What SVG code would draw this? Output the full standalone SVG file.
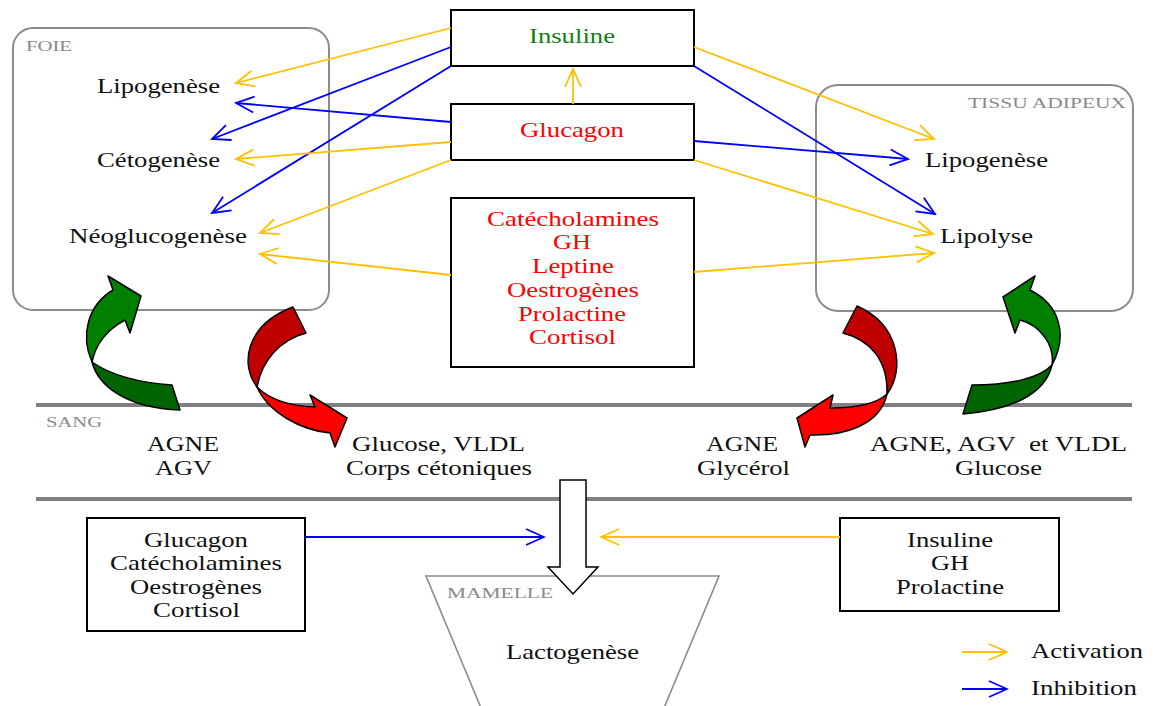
<svg xmlns="http://www.w3.org/2000/svg" width="1153" height="706" viewBox="0 0 1153 706">
<style>
.t{font-family:"Liberation Serif","Times New Roman",serif;font-size:22px;fill:#111}
.s{font-size:21px}
.r{fill:#ff0000}
.g{fill:#157f15}
.lbl{font-family:"Liberation Serif","Times New Roman",serif;font-size:15px;fill:#8a8a8a}
.zone{fill:none;stroke:#8c8c8c;stroke-width:2}
.box{fill:#fff;stroke:#000;stroke-width:2}
.sep{stroke:#808080;stroke-width:4}
.y{stroke:#ffc000;stroke-width:1.8;fill:none;marker-end:url(#my)}
.b{stroke:#0000ff;stroke-width:1.8;fill:none;marker-end:url(#mb)}
.cv{stroke:#000;stroke-width:1.5;stroke-linejoin:round}
</style>
<defs>
<marker id="my" markerUnits="userSpaceOnUse" markerWidth="22" markerHeight="20" viewBox="0 0 22 20" refX="20" refY="10" orient="auto">
<path d="M2,2 L20,10 L2,18" fill="none" stroke="#ffc000" stroke-width="1.8"/>
</marker>
<marker id="mb" markerUnits="userSpaceOnUse" markerWidth="22" markerHeight="20" viewBox="0 0 22 20" refX="20" refY="10" orient="auto">
<path d="M2,2 L20,10 L2,18" fill="none" stroke="#0000ff" stroke-width="1.8"/>
</marker>
</defs>
<rect width="1153" height="706" fill="#fff"/>

<g id="foie">
<rect class="zone" x="13" y="28" width="316" height="282" rx="20"/>
<text class="lbl" x="26" y="51" textLength="46" lengthAdjust="spacingAndGlyphs">FOIE</text>
<text class="t" x="97" y="93" textLength="123" lengthAdjust="spacingAndGlyphs">Lipogenèse</text>
<text class="t" x="97" y="167" textLength="123" lengthAdjust="spacingAndGlyphs">Cétogenèse</text>
<text class="t" x="69" y="243" textLength="178" lengthAdjust="spacingAndGlyphs">Néoglucogenèse</text>
</g>

<g id="tissu-adipeux">
<rect class="zone" x="816" y="85" width="317" height="226" rx="22"/>
<text class="lbl" x="968" y="108" textLength="158" lengthAdjust="spacingAndGlyphs">TISSU ADIPEUX</text>
<text class="t" x="925" y="167" textLength="123" lengthAdjust="spacingAndGlyphs">Lipogenèse</text>
<text class="t" x="940" y="243" textLength="93" lengthAdjust="spacingAndGlyphs">Lipolyse</text>
</g>

<g id="insuline">
<rect class="box" x="451" y="10" width="243" height="56"/>
<text class="t g" x="529" y="43" textLength="86" lengthAdjust="spacingAndGlyphs">Insuline</text>
</g>
<g id="glucagon">
<rect class="box" x="451" y="104" width="243" height="56"/>
<text class="t r" x="520" y="137" textLength="104" lengthAdjust="spacingAndGlyphs">Glucagon</text>
</g>
<g id="hormones">
<rect class="box" x="451" y="198" width="243" height="169"/>
<text class="t r" x="487" y="226" textLength="172" lengthAdjust="spacingAndGlyphs">Catécholamines</text>
<text class="t r" x="553" y="249" textLength="38" lengthAdjust="spacingAndGlyphs">GH</text>
<text class="t r" x="532" y="273" textLength="82" lengthAdjust="spacingAndGlyphs">Leptine</text>
<text class="t r" x="507" y="297" textLength="132" lengthAdjust="spacingAndGlyphs">Oestrogènes</text>
<text class="t r" x="518" y="321" textLength="108" lengthAdjust="spacingAndGlyphs">Prolactine</text>
<text class="t r" x="529" y="344" textLength="87" lengthAdjust="spacingAndGlyphs">Cortisol</text>
</g>

<g id="sang">
<line class="sep" x1="36" y1="405" x2="1132" y2="405"/>
<line class="sep" x1="36" y1="499" x2="1132" y2="499"/>
<text class="lbl" x="46" y="427" textLength="56" lengthAdjust="spacingAndGlyphs">SANG</text>
<text class="t s" x="147" y="451" textLength="72" lengthAdjust="spacingAndGlyphs">AGNE</text>
<text class="t s" x="155" y="475" textLength="57" lengthAdjust="spacingAndGlyphs">AGV</text>
<text class="t s" x="352" y="451" textLength="173" lengthAdjust="spacingAndGlyphs">Glucose, VLDL</text>
<text class="t s" x="346" y="475" textLength="186" lengthAdjust="spacingAndGlyphs">Corps cétoniques</text>
<text class="t s" x="706" y="451" textLength="72" lengthAdjust="spacingAndGlyphs">AGNE</text>
<text class="t s" x="697" y="475" textLength="93" lengthAdjust="spacingAndGlyphs">Glycérol</text>
<text class="t s" x="870" y="451" textLength="257" lengthAdjust="spacingAndGlyphs">AGNE, AGV &#160;et VLDL</text>
<text class="t s" x="955" y="475" textLength="87" lengthAdjust="spacingAndGlyphs">Glucose</text>
</g>

<g id="inhibiteurs-mamelle">
<rect class="box" x="87" y="518" width="218" height="113"/>
<text class="t" x="144" y="547" textLength="104" lengthAdjust="spacingAndGlyphs">Glucagon</text>
<text class="t" x="110" y="570" textLength="172" lengthAdjust="spacingAndGlyphs">Catécholamines</text>
<text class="t" x="130" y="594" textLength="132" lengthAdjust="spacingAndGlyphs">Oestrogènes</text>
<text class="t" x="153" y="617" textLength="87" lengthAdjust="spacingAndGlyphs">Cortisol</text>
</g>
<g id="activateurs-mamelle">
<rect class="box" x="840" y="518" width="219" height="93"/>
<text class="t" x="907" y="547" textLength="86" lengthAdjust="spacingAndGlyphs">Insuline</text>
<text class="t" x="931" y="570" textLength="38" lengthAdjust="spacingAndGlyphs">GH</text>
<text class="t" x="896" y="594" textLength="108" lengthAdjust="spacingAndGlyphs">Prolactine</text>
</g>

<g id="mamelle">
<polygon points="426,576 719,576 664,708 481,708" fill="#fff" stroke="#8c8c8c" stroke-width="1.6"/>
<text class="lbl" x="447" y="598" textLength="106" lengthAdjust="spacingAndGlyphs">MAMELLE</text>
<text class="t" x="506" y="659" textLength="133" lengthAdjust="spacingAndGlyphs">Lactogenèse</text>
</g>

<g id="connecteurs">
<line class="y" x1="451" y1="28" x2="236" y2="83"/>
<line class="b" x1="451" y1="47" x2="212" y2="139"/>
<line class="b" x1="451" y1="66" x2="212" y2="213"/>
<line class="b" x1="451" y1="122" x2="236" y2="103"/>
<line class="y" x1="451" y1="142" x2="236" y2="159"/>
<line class="y" x1="451" y1="160" x2="260" y2="233"/>
<line class="y" x1="451" y1="275" x2="260" y2="254"/>
<line class="y" x1="573" y1="104" x2="573" y2="69"/>
<line class="y" x1="694" y1="47" x2="934" y2="139"/>
<line class="b" x1="694" y1="66" x2="935" y2="214"/>
<line class="b" x1="694" y1="141" x2="908" y2="159"/>
<line class="y" x1="694" y1="160" x2="933" y2="234"/>
<line class="y" x1="694" y1="272" x2="934" y2="253"/>
<line class="b" x1="305" y1="537" x2="544" y2="537"/>
<line class="y" x1="840" y1="537" x2="601" y2="537"/>
<polygon points="560,480 586,480 586,567 598,567 573,594 548,567 560,567" fill="#fff" stroke="#000" stroke-width="1.5"/>
</g>

<g id="fleches-courbes">
<path class="cv" fill="#006400" d="M92,362 C98,385 125,408 180,410 L172,385 C140,383 110,375 92,362 Z"/>
<path class="cv" fill="#007f00" d="M92,362 C80,335 88,305 113,290 L108,276 L141,296 L130,333 L125,320 C110,328 96,342 92,362 Z"/>
<path class="cv" fill="#c00000" d="M257,387 C240,365 245,325 293,307 L306,333 C280,340 262,360 257,387 Z"/>
<path class="cv" fill="#ff0000" d="M257,387 C270,400 290,406 315,407 L310,395 L347,418 L335,447 L330,433 C300,430 268,412 257,387 Z"/>
<path class="cv" fill="#c00000" d="M887,394 C905,370 900,325 857,306 L843,333 C870,340 888,360 887,394 Z"/>
<path class="cv" fill="#ff0000" d="M887,394 C875,405 850,408 830,408 L833,395 L797,418 L805,447 L810,435 C845,436 880,425 887,394 Z"/>
<path class="cv" fill="#006400" d="M1052,365 C1045,395 1010,410 963,414 L972,385 C1010,385 1040,378 1052,365 Z"/>
<path class="cv" fill="#007f00" d="M1052,365 C1068,335 1060,305 1030,290 L1035,276 L1003,297 L1015,333 L1020,320 C1040,325 1055,345 1052,365 Z"/>
</g>

<g id="legende">
<line class="y" x1="962" y1="652" x2="1007" y2="652"/>
<line class="b" x1="962" y1="689" x2="1007" y2="689"/>
<text class="t" x="1031" y="658" textLength="112" lengthAdjust="spacingAndGlyphs">Activation</text>
<text class="t" x="1031" y="695" textLength="106" lengthAdjust="spacingAndGlyphs">Inhibition</text>
</g>
</svg>
